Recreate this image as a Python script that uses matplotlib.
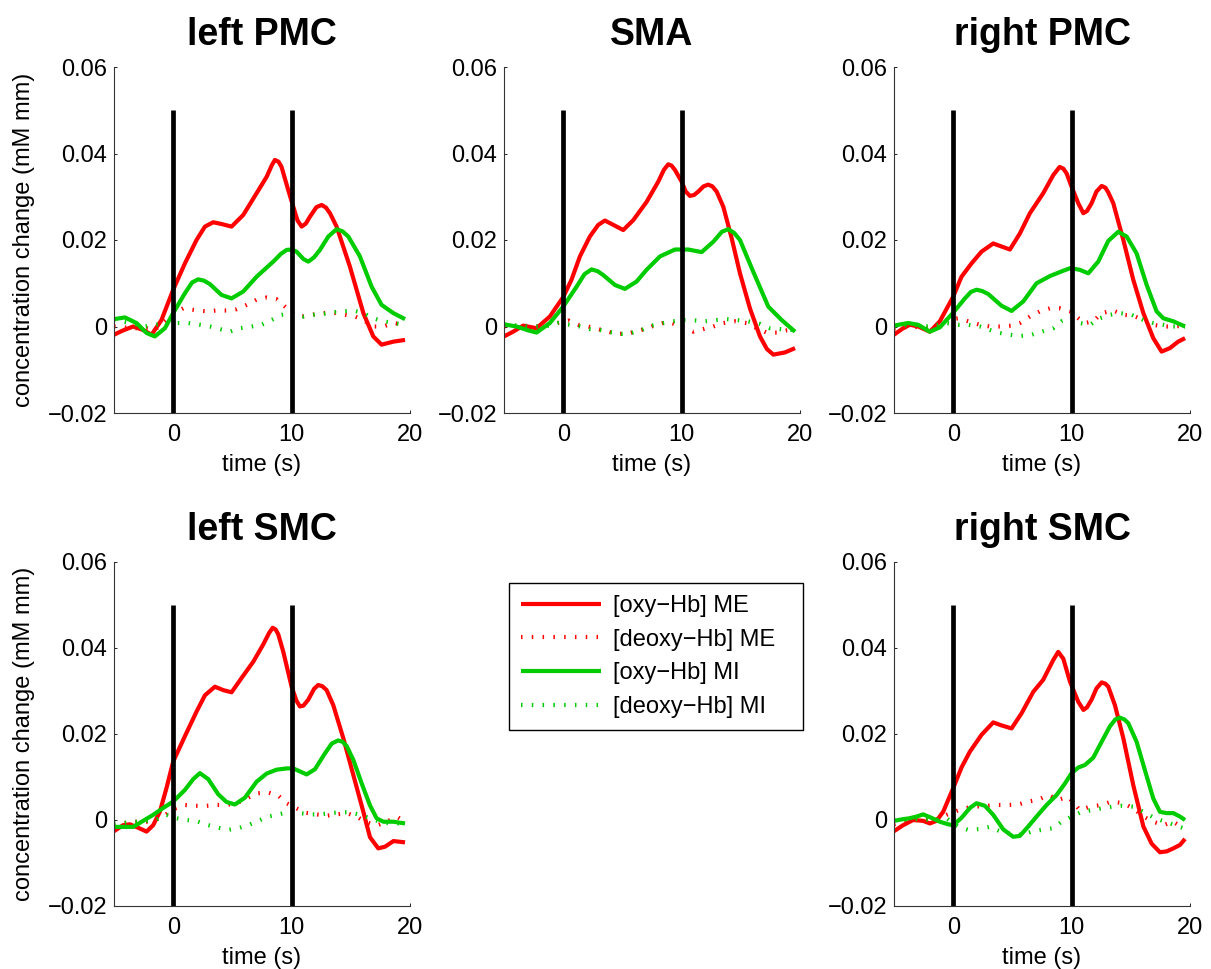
import numpy as np
import matplotlib
matplotlib.use("Agg")
import matplotlib.pyplot as plt

plt.rcParams['font.family'] = ['Liberation Sans', 'DejaVu Sans']

# ---------------------------------------------------------------- data
# Grand-average hemodynamic responses, (time [s], concentration change [mM mm])

# left PMC
left_pmc_oxy_me = [(-5, -0.0019), (-4.23, -0.0009), (-3.38, 0.0), (-2.54, -0.0008), (-1.83, -0.0019),
                   (-0.99, 0.0015), (0, 0.0085), (0.99, 0.0146), (1.97, 0.0200), (2.68, 0.0231),
                   (3.38, 0.0241), (4.08, 0.0237), (4.93, 0.0231), (5.92, 0.0258), (7.04, 0.0308),
                   (7.89, 0.0346), (8.35, 0.0374), (8.59, 0.0385), (8.9, 0.0381), (9.15, 0.0369),
                   (9.72, 0.0315), (10.14, 0.0277), (10.5, 0.0245), (10.85, 0.0231), (11.2, 0.0238),
                   (11.55, 0.0254), (12.1, 0.0276), (12.54, 0.0281), (12.9, 0.0275), (13.24, 0.0262),
                   (13.80, 0.0231), (14.93, 0.0138), (16.06, 0.0031), (16.9, -0.0023), (17.6, -0.0042),
                   (18.6, -0.0035), (19.58, -0.0031)]
left_pmc_deoxy_me = [(-5, 0.0), (-3.4, -0.0004), (-2.25, -0.0004), (-1.55, -0.0008), (0, 0.003),
                     (0.85, 0.0042), (1.83, 0.0038), (2.82, 0.0035), (3.66, 0.0037), (4.5, 0.0037),
                     (5.35, 0.004), (6.2, 0.005), (7.04, 0.0062), (7.89, 0.0067), (8.73, 0.0063),
                     (9.44, 0.0046), (10.28, 0.0027), (10.85, 0.0023), (11.69, 0.0027), (12.54, 0.0031),
                     (13.52, 0.0032), (14.51, 0.0027), (15.35, 0.0023), (16.06, 0.0015), (16.9, 0.0),
                     (17.75, 0.0), (18.59, 0.0008), (19.58, 0.0004)]
left_pmc_oxy_mi = [(-5, 0.0017), (-4.08, 0.0021), (-3.1, 0.0008), (-2.25, -0.0015), (-1.55, -0.0023),
                   (-0.7, -0.0004), (0, 0.0031), (0.99, 0.0077), (1.6, 0.0102), (2.11, 0.0109),
                   (2.6, 0.0106), (3.1, 0.0098), (4.08, 0.0073), (4.93, 0.0065), (5.92, 0.0081),
                   (7.04, 0.0115), (8.45, 0.015), (9.1, 0.0168), (9.58, 0.0177), (10.0, 0.0178),
                   (10.42, 0.0173), (11.0, 0.0156), (11.41, 0.015), (11.9, 0.016), (12.39, 0.0177),
                   (13.1, 0.0208), (13.8, 0.0225), (14.3, 0.022), (14.79, 0.0208), (15.77, 0.0162),
                   (16.76, 0.0092), (17.6, 0.005), (18.59, 0.0031), (19.58, 0.0017)]
left_pmc_deoxy_mi = [(-5, 0.0015), (-3.66, 0.0008), (-2.39, 0.0), (-0.56, 0.0008), (0.28, 0.0008),
                     (1.27, 0.0008), (2.25, 0.0004), (3.1, 0.0), (3.94, -0.0006), (4.79, -0.0012),
                     (5.63, -0.0004), (6.62, 0.0), (7.46, 0.0004), (8.31, 0.0015), (9.15, 0.0027),
                     (10.0, 0.0031), (11.0, 0.0023), (11.83, 0.0027), (12.68, 0.0029), (13.52, 0.0033),
                     (14.37, 0.0035), (15.21, 0.0037), (16.06, 0.0031), (16.9, 0.0019), (17.75, 0.0012),
                     (18.59, 0.0008), (19.58, 0.0004)]

# SMA
sma_oxy_me = [(-5, -0.0023), (-4.23, -0.0012), (-3.38, 0.0002), (-2.25, -0.0004), (-1.13, 0.0023),
              (0, 0.0068), (0.7, 0.0108), (1.41, 0.0162), (2.25, 0.0208), (2.96, 0.0235),
              (3.52, 0.0245), (4.23, 0.0235), (5.07, 0.0223), (5.92, 0.0246), (7.04, 0.0288),
              (8.03, 0.0335), (8.5, 0.0362), (8.87, 0.0375), (9.15, 0.0372), (9.44, 0.0362),
              (10.0, 0.0335), (10.35, 0.0312), (10.7, 0.0302), (11.05, 0.0304), (11.41, 0.0312),
              (11.85, 0.0324), (12.25, 0.0328), (12.6, 0.0324), (12.96, 0.0312), (13.52, 0.0277),
              (14.23, 0.0204), (14.93, 0.0123), (15.77, 0.0042), (16.62, -0.0023), (17.2, -0.0052),
              (17.75, -0.0065), (18.73, -0.006), (19.58, -0.005)]
sma_deoxy_me = [(-5, 0.0), (-3.5, 0.0002), (-2, 0.0), (-1, 0.0005), (0.42, 0.0014), (1.27, 0.0004),
                (2.11, 0.0), (2.96, -0.0006), (3.94, -0.0013), (4.79, -0.0017), (5.63, -0.0015),
                (6.62, -0.0008), (7.46, 0.0), (8.45, 0.0008), (9.15, 0.0008), (10.0, 0.0),
                (10.99, -0.0012), (11.83, -0.0006), (12.68, 0.0), (13.52, 0.0008), (14.51, 0.0012),
                (15.49, 0.0008), (16.34, -0.0004), (17.18, -0.0014), (18.03, -0.0014), (18.87, -0.0009),
                (19.58, -0.0008)]
sma_oxy_mi = [(-5, 0.0005), (-3.94, 0.0), (-2.96, -0.0009), (-2.25, -0.0014), (-1.13, 0.0008),
              (0, 0.0046), (1.13, 0.0092), (1.8, 0.0121), (2.39, 0.0132), (2.9, 0.0128),
              (3.38, 0.0119), (4.37, 0.0096), (5.21, 0.0087), (6.2, 0.0104), (7.04, 0.0131),
              (8.17, 0.0162), (9.44, 0.0178), (10.56, 0.0178), (11.69, 0.0172), (12.68, 0.0196),
              (13.4, 0.0219), (13.94, 0.0225), (14.45, 0.0216), (14.93, 0.02), (15.92, 0.0135),
              (17.32, 0.0046), (18.45, 0.0015), (19.58, -0.0012)]
sma_deoxy_mi = [(-5, 0.0005), (-3, 0.0), (-1.5, 0.0), (-0.42, 0.0008), (0.56, 0.0004), (1.41, 0.0),
                (2.25, -0.0006), (3.1, -0.0008), (3.94, -0.0013), (4.93, -0.0017), (5.77, -0.0015),
                (6.62, -0.0008), (7.46, 0.0002), (8.45, 0.0008), (9.3, 0.0012), (10.14, 0.0015),
                (11.13, 0.0014), (11.97, 0.0012), (12.96, 0.0015), (13.8, 0.0017), (14.65, 0.0015),
                (15.63, 0.0012), (16.62, 0.0006), (17.46, -0.0004), (18.31, -0.0006), (19.15, -0.0008),
                (19.58, -0.0008)]

# right PMC
right_pmc_oxy_me = [(-5, -0.0019), (-4.23, -0.0004), (-3.66, 0.0004), (-2.96, 0.0), (-1.97, -0.0012),
                    (-1.13, 0.0012), (0, 0.0069), (0.7, 0.0115), (1.55, 0.0146), (2.39, 0.0173),
                    (3.38, 0.0192), (4.08, 0.0185), (4.79, 0.0178), (5.63, 0.0215), (6.48, 0.0262),
                    (7.6, 0.0308), (8.45, 0.035), (8.99, 0.0369), (9.3, 0.0365), (9.58, 0.0354),
                    (10.0, 0.0323), (10.56, 0.0285), (10.99, 0.0262), (11.3, 0.0267), (11.69, 0.0285),
                    (12.1, 0.0312), (12.54, 0.0325), (12.85, 0.0321), (13.1, 0.031), (13.52, 0.0285),
                    (14.37, 0.02), (15.21, 0.0108), (16.06, 0.0031), (16.9, -0.0027), (17.6, -0.0058),
                    (18.3, -0.005), (19.0, -0.0035), (19.58, -0.0027)]
right_pmc_deoxy_me = [(-5, -0.0005), (-3.5, 0.0), (-2, -0.0005), (-0.56, 0.0015), (0.42, 0.0019),
                      (1.27, 0.0012), (2.25, 0.0004), (3.1, 0.0), (4.08, 0.0), (4.93, 0.0002),
                      (5.63, 0.0008), (6.48, 0.0023), (7.32, 0.0035), (8.17, 0.0042), (9.01, 0.0042),
                      (9.86, 0.0035), (10.42, 0.0022), (11.13, 0.0008), (11.83, 0.0012), (12.54, 0.0031),
                      (13.52, 0.0037), (14.37, 0.0027), (15.21, 0.0025), (16.06, 0.0015), (16.9, 0.0004),
                      (17.75, 0.0), (18.59, 0.0), (19.58, 0.0002)]
right_pmc_oxy_mi = [(-5, 0.0002), (-4.23, 0.0006), (-3.8, 0.0008), (-2.96, 0.0004), (-1.97, -0.0012),
                    (-1.13, -0.0002), (0, 0.0032), (0.99, 0.0065), (1.5, 0.008), (1.97, 0.0085),
                    (2.45, 0.0082), (2.96, 0.0075), (4.08, 0.0048), (4.93, 0.0036), (5.92, 0.0058),
                    (7.04, 0.01), (8.2, 0.0117), (9.3, 0.0129), (9.9, 0.0135), (10.7, 0.0131),
                    (11.41, 0.0123), (12.25, 0.015), (13.1, 0.0198), (13.94, 0.0219), (14.65, 0.0208),
                    (15.49, 0.0169), (16.34, 0.0096), (17.18, 0.0035), (17.75, 0.0019), (18.59, 0.0012),
                    (19.58, 0.0)]
right_pmc_deoxy_mi = [(-5, 0.0), (-3.5, 0.0004), (-2, 0.0), (-0.56, 0.0008), (0.42, 0.0004),
                      (1.27, 0.0004), (2.25, 0.0), (3.1, -0.0008), (3.94, -0.0015), (4.79, -0.0019),
                      (5.63, -0.0022), (6.62, -0.0019), (7.46, -0.0012), (8.45, -0.0004), (9.15, 0.0012),
                      (10.0, 0.0019), (10.7, 0.0008), (11.55, 0.0004), (12.39, 0.0019), (13.24, 0.0027),
                      (14.08, 0.0031), (15.07, 0.0027), (16.06, 0.0015), (16.9, 0.0008), (17.75, 0.0004),
                      (18.59, 0.0), (19.58, 0.0)]

# left SMC
left_smc_oxy_me = [(-5, -0.0026), (-4.23, -0.0012), (-3.66, -0.001), (-2.96, -0.0018), (-2.25, -0.0027),
                   (-1.69, -0.0012), (-1.13, 0.0019), (-0.56, 0.0075), (0, 0.0136), (0.99, 0.0195),
                   (1.97, 0.0252), (2.68, 0.029), (3.52, 0.031), (4.23, 0.0302), (4.93, 0.0297),
                   (5.77, 0.033), (6.76, 0.0368), (7.6, 0.0408), (8.1, 0.0435), (8.4, 0.0447),
                   (8.65, 0.0443), (8.87, 0.0432), (9.3, 0.0391), (10.0, 0.031), (10.4, 0.0278),
                   (10.7, 0.0264), (11.0, 0.0266), (11.41, 0.028), (11.9, 0.0305), (12.25, 0.0314),
                   (12.6, 0.0311), (12.96, 0.0302), (13.52, 0.0267), (14.37, 0.019), (15.21, 0.0105),
                   (16.06, 0.0019), (16.62, -0.004), (17.32, -0.0066), (17.9, -0.0062), (18.6, -0.0049),
                   (19.58, -0.0052)]
left_smc_deoxy_me = [(-5, -0.0012), (-3.38, -0.0004), (-2.25, -0.0004), (-0.85, 0.0008), (0, 0.0025),
                     (0.99, 0.0035), (1.83, 0.0033), (2.82, 0.0033), (3.66, 0.0035), (4.5, 0.0035),
                     (5.35, 0.0039), (6.2, 0.005), (7.04, 0.0062), (8.03, 0.0064), (8.87, 0.0057),
                     (9.58, 0.0039), (10.42, 0.0027), (11.13, 0.0017), (12.11, 0.0013), (12.96, 0.001),
                     (13.8, 0.0013), (14.65, 0.0016), (15.49, 0.0008), (16.2, -0.0004), (17.18, -0.0013),
                     (18.03, -0.0004), (18.87, 0.0008), (19.58, -0.0004)]
left_smc_oxy_mi = [(-5, -0.0016), (-4.23, -0.0016), (-3.38, -0.0016), (-2.54, -0.0002), (-1.69, 0.0012),
                   (-0.85, 0.0028), (0, 0.0043), (0.99, 0.007), (1.69, 0.0095), (2.25, 0.0109),
                   (2.96, 0.0095), (3.8, 0.006), (4.5, 0.0042), (5.21, 0.0036), (6.06, 0.0052),
                   (7.04, 0.0089), (7.89, 0.0108), (8.73, 0.0117), (9.6, 0.012), (10.14, 0.012),
                   (10.7, 0.0113), (11.27, 0.0106), (11.97, 0.0118), (12.82, 0.0155), (13.4, 0.0178),
                   (13.94, 0.0185), (14.3, 0.0182), (14.65, 0.0172), (15.21, 0.014), (15.92, 0.0085),
                   (16.62, 0.0034), (17.18, 0.0004), (17.75, -0.0004), (18.59, -0.0004), (19.58, -0.0008)]
left_smc_deoxy_mi = [(-5, -0.0008), (-3, -0.0004), (-1.5, 0.0), (-0.56, 0.0012), (0.28, 0.0004),
                     (1.13, 0.0), (2.11, -0.0004), (2.96, -0.0012), (3.8, -0.0018), (4.65, -0.0023),
                     (5.49, -0.0019), (6.34, -0.0012), (7.18, -0.0002), (8.03, 0.0008), (8.87, 0.0013),
                     (9.86, 0.0019), (10.7, 0.0016), (11.55, 0.0013), (12.39, 0.0013), (13.24, 0.0016),
                     (14.08, 0.0018), (14.93, 0.0018), (15.77, 0.0012), (16.62, 0.0004), (17.46, -0.0004),
                     (18.31, -0.0008), (19.15, -0.0008), (19.58, -0.0008)]

# right SMC
right_smc_oxy_me = [(-5, -0.0026), (-4.23, -0.0012), (-3.38, 0.0), (-2.54, -0.0002), (-1.97, -0.0008),
                    (-1.41, -0.0002), (-0.85, 0.0019), (0, 0.0074), (0.7, 0.0122), (1.41, 0.0159),
                    (2.39, 0.0198), (3.38, 0.0227), (4.08, 0.022), (4.93, 0.0213), (5.77, 0.0248),
                    (6.76, 0.0298), (7.6, 0.0326), (8.45, 0.0372), (8.87, 0.0391), (9.3, 0.0375),
                    (9.86, 0.0322), (10.56, 0.0275), (11.0, 0.0256), (11.3, 0.0262), (11.69, 0.028),
                    (12.1, 0.0306), (12.54, 0.032), (12.85, 0.0317), (13.1, 0.031), (13.66, 0.0267),
                    (14.37, 0.019), (15.21, 0.0081), (16.06, -0.0015), (16.76, -0.0055), (17.46, -0.0075),
                    (18.03, -0.0073), (18.59, -0.0066), (19.15, -0.0058), (19.58, -0.0044)]
right_smc_deoxy_me = [(-5, -0.001), (-3.38, 0.0), (-1.5, 0.0), (-0.56, 0.0012), (0.85, 0.0027),
                      (1.83, 0.0031), (2.82, 0.0033), (3.66, 0.0035), (4.65, 0.0035), (5.49, 0.0036),
                      (6.34, 0.0043), (7.18, 0.0047), (8.03, 0.0058), (8.87, 0.0047), (9.72, 0.0054),
                      (10.7, 0.0023), (11.55, 0.0031), (12.54, 0.0035), (13.38, 0.0043), (14.37, 0.0039),
                      (15.21, 0.0027), (16.06, 0.0008), (16.9, -0.0004), (17.75, -0.0012),
                      (18.59, -0.0004), (19.44, -0.0019)]
right_smc_oxy_mi = [(-5, -0.0002), (-4.23, 0.0002), (-3.7, 0.0004), (-3.1, 0.0008), (-2.54, 0.0013),
                    (-1.83, 0.0005), (-1.13, -0.0004), (-0.42, -0.001), (0, -0.0012), (0.7, 0.0005),
                    (1.41, 0.0028), (1.97, 0.0039), (2.68, 0.0033), (3.38, 0.0012), (4.23, -0.0022),
                    (5.07, -0.0039), (5.63, -0.0037), (6.34, -0.0015), (7.04, 0.0008), (7.89, 0.0035),
                    (8.73, 0.0058), (9.44, 0.0085), (10.0, 0.0109), (10.56, 0.0122), (11.13, 0.0128),
                    (11.83, 0.0145), (12.54, 0.0182), (13.24, 0.0218), (13.7, 0.0234), (14.08, 0.0238),
                    (14.45, 0.0234), (14.79, 0.0225), (15.49, 0.0182), (16.2, 0.0115), (16.9, 0.005),
                    (17.46, 0.0019), (18.03, 0.0016), (18.59, 0.0016), (19.15, 0.0008), (19.58, 0.0)]
right_smc_deoxy_mi = [(-5, 0.0), (-3, 0.0002), (-1.5, 0.0), (-0.56, 0.0004), (0.42, -0.0016),
                      (1.27, -0.0023), (2.25, -0.0021), (3.1, -0.0016), (3.94, -0.0026), (4.79, -0.0031),
                      (5.77, -0.0035), (6.62, -0.0027), (7.46, -0.0023), (8.45, -0.0019), (9.15, -0.0004),
                      (10.0, 0.0008), (10.85, 0.0019), (11.69, 0.0023), (12.54, 0.0027), (13.38, 0.0031),
                      (14.23, 0.0033), (15.21, 0.0031), (16.06, 0.0019), (17.04, 0.0004), (17.89, -0.0004),
                      (18.73, -0.0012), (19.44, -0.0019)]

region_titles = ["left PMC", "SMA", "right PMC", "left SMC", "right SMC"]
series_labels = ["[oxy\u2212Hb] ME", "[deoxy\u2212Hb] ME", "[oxy\u2212Hb] MI", "[deoxy\u2212Hb] MI"]
task_onsets = [0, 10]          # task start / end markers (s)
marker_span = (-0.02, 0.05)    # vertical extent of the task markers
x_ticks = [0, 10, 20]
y_ticks = [-0.02, 0, 0.02, 0.04, 0.06]
y_tick_labels = ["\u22120.02", "0", "0.02", "0.04", "0.06"]

regions = [
    (left_pmc_oxy_me, left_pmc_deoxy_me, left_pmc_oxy_mi, left_pmc_deoxy_mi),
    (sma_oxy_me, sma_deoxy_me, sma_oxy_mi, sma_deoxy_mi),
    (right_pmc_oxy_me, right_pmc_deoxy_me, right_pmc_oxy_mi, right_pmc_deoxy_mi),
    (left_smc_oxy_me, left_smc_deoxy_me, left_smc_oxy_mi, left_smc_deoxy_mi),
    (right_smc_oxy_me, right_smc_deoxy_me, right_smc_oxy_mi, right_smc_deoxy_mi),
]

# ---------------------------------------------------------------- figure
W, H = 1211, 969
fig = plt.figure(figsize=(W / 100, H / 100), dpi=100)

def rect(l, t, r, b):
    return [l / W, 1 - b / H, (r - l) / W, (b - t) / H]

axes_rects = [
    rect(114, 67, 410, 413),
    rect(504, 67, 800, 413),
    rect(894, 67, 1190, 413),
    rect(114, 562, 410, 906),
    rect(894, 562, 1190, 906),
]
show_ylabel = [True, False, False, True, False]

RED = (1.0, 0.0, 0.0)
GREEN = (0.0, 0.8, 0.0)
LW = 3.0
DOTTED = (0, (0.36, 2.23))
styles = [
    dict(color=RED, lw=LW, ls="-"),
    dict(color=RED, lw=LW, ls=DOTTED),
    dict(color=GREEN, lw=LW, ls="-"),
    dict(color=GREEN, lw=LW, ls=DOTTED),
]

FS = 17
legend_handles = None
for i, (pos, title, series) in enumerate(zip(axes_rects, region_titles, regions)):
    ax = fig.add_axes(pos)
    handles = []
    for data, st, lab in zip(series, styles, series_labels):
        arr = np.array(data)
        h, = ax.plot(arr[:, 0], arr[:, 1], label=lab, solid_capstyle="butt",
                     solid_joinstyle="round", dash_capstyle="butt", **st)
        handles.append(h)
    for t0 in task_onsets:
        ax.plot([t0, t0], marker_span, color="black", lw=3.4, solid_capstyle="butt")
    if legend_handles is None:
        legend_handles = handles

    ax.set_xlim(-5, 20)
    ax.set_ylim(-0.02, 0.06)
    ax.set_xticks(x_ticks)
    ax.set_xticklabels([str(v) for v in x_ticks])
    ax.set_yticks(y_ticks)
    ax.set_yticklabels(y_tick_labels)
    ax.tick_params(direction="in", length=2.5, width=0.6, labelsize=FS, colors="black")
    ax.tick_params(axis="y", pad=5)
    ax.tick_params(axis="x", pad=8)
    for side in ("top", "right"):
        ax.spines[side].set_visible(False)
    for side in ("left", "bottom"):
        ax.spines[side].set_linewidth(0.8)
        ax.spines[side].set_color("#333333")
    ax.set_title(title, fontsize=27, fontweight="bold", pad=16)
    ax.set_xlabel("time (s)", fontsize=FS, labelpad=6)
    if show_ylabel[i]:
        ax.set_ylabel("concentration change (mM mm)", fontsize=FS, labelpad=9)

leg = fig.legend(legend_handles, series_labels, loc="upper left",
                 bbox_to_anchor=(509 / W, 1 - 726 / H, 294 / W, 143 / H), mode="expand",
                 borderaxespad=0, fontsize=FS, handlelength=3.4, handletextpad=0.5,
                 labelspacing=0.5, borderpad=0.5, fancybox=False,
                 framealpha=1, edgecolor="black")
leg.get_frame().set_linewidth(1.0)

fig.savefig("out.png", dpi=100)
